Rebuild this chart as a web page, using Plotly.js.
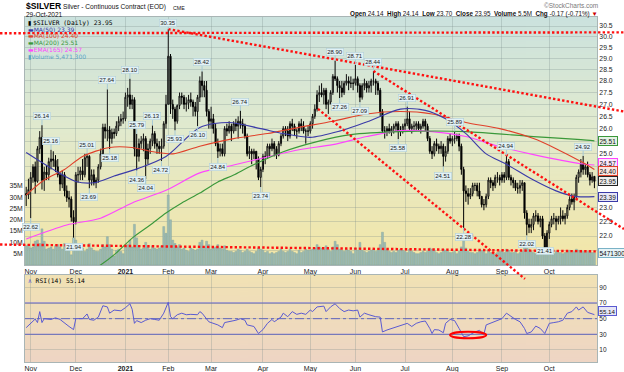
<!DOCTYPE html>
<html><head><meta charset="utf-8">
<script src="https://cdn.plot.ly/plotly-3.0.1.min.js"></script>
<style>html,body{margin:0;padding:0;background:#fff}#chart{width:624px;height:372px}</style>
</head><body><div id="chart"></div>
<script>
// ---------- calendar ----------
const firstDay = '2020-10-29', lastDay = '2021-10-29';
const holidays = ['2020-11-26','2020-12-25','2021-01-01','2021-01-18','2021-02-15','2021-04-02','2021-05-31','2021-07-05','2021-09-06'];
function tradingDays(a, b) {
  const out = []; const d = new Date(a + 'T00:00:00Z'); const end = new Date(b + 'T00:00:00Z');
  while (d <= end) { const wd = d.getUTCDay(); const s = d.toISOString().slice(0, 10);
    if (wd !== 0 && wd !== 6 && !holidays.includes(s)) out.push(s); d.setUTCDate(d.getUTCDate() + 1); }
  return out;
}
const dates = tradingDays(firstDay, lastDay);

// ---------- daily prices (Oct-29-2020 .. Oct-29-2021), one row per month ----------
const open = [
23.50,23.45,
23.65,24.10,24.50,23.95,25.20,25.65,24.00,24.30,24.20,24.70,24.80,24.75,24.50,24.20,23.85,24.20,23.60,23.35,23.30,22.65,
22.50,24.20,24.20,24.35,24.20,24.85,24.90,24.00,24.20,23.90,24.00,24.50,25.00,26.05,25.90,25.95,25.60,25.85,25.80,26.10,26.30,26.40,
26.40,27.30,27.40,27.00,27.20,25.20,24.90,25.40,25.50,25.60,24.80,25.20,25.50,25.80,25.40,25.30,25.20,25.30,26.20,
27.00,29.10,27.00,26.80,26.30,26.95,27.35,27.30,27.00,27.05,27.20,27.10,26.90,26.70,27.30,28.00,27.80,27.60,26.70,
26.30,26.40,26.00,25.40,25.10,25.20,25.00,26.00,25.90,26.10,25.90,26.20,26.10,26.30,26.20,26.10,25.70,25.00,25.10,25.00,25.10,24.80,24.10,
24.40,24.90,24.90,25.30,25.20,25.40,25.20,24.95,25.40,25.70,26.00,25.90,25.70,26.20,26.10,25.90,25.90,26.20,26.10,25.90,25.90,
25.90,26.20,26.50,26.80,27.40,27.50,27.40,27.60,27.00,27.10,27.50,28.20,28.10,27.80,27.70,27.50,27.90,28.00,27.90,27.90,
27.90,28.10,27.80,27.30,27.80,27.90,27.70,27.80,28.00,28.00,27.90,27.60,26.70,25.90,25.90,26.00,25.90,26.00,26.10,26.20,25.90,25.90,
26.10,26.20,26.40,26.00,26.10,26.10,26.20,26.00,26.10,26.30,26.10,25.60,25.10,25.00,25.40,25.30,25.20,25.30,24.90,25.10,25.60,
25.50,25.60,25.60,25.70,25.30,24.40,23.60,23.50,23.40,23.50,23.80,23.80,23.60,23.40,23.10,23.10,23.40,24.00,23.90,23.80,24.10,24.10,
24.00,24.20,24.10,24.70,24.10,24.00,23.90,23.70,23.70,23.80,23.90,22.80,22.40,22.30,22.40,22.70,22.70,22.50,22.60,22.00,21.60,
22.10,22.40,22.60,22.60,22.50,22.60,22.70,22.60,22.70,23.00,23.30,23.20,23.40,24.10,24.30,24.60,24.40,24.50,24.20,24.00,24.14];
const high = [
23.75,24.05,
24.30,24.60,24.70,25.30,25.90,26.14,24.50,24.55,24.85,25.16,25.10,24.95,24.80,24.30,24.35,24.30,23.80,23.60,23.40,22.90,
24.30,24.50,24.50,24.80,25.00,25.01,24.95,24.40,24.40,24.10,24.60,25.20,26.20,26.20,27.64,26.10,26.00,26.00,26.30,26.50,26.60,26.70,
27.50,27.70,28.10,27.40,27.30,25.79,25.60,25.70,25.80,25.70,25.40,25.60,26.13,25.90,25.60,25.50,25.60,26.30,27.40,
30.35,29.20,27.20,26.90,27.00,27.50,27.50,27.40,27.30,27.40,27.50,27.20,27.10,27.40,28.20,28.42,28.00,28.00,26.80,
26.90,26.60,26.20,25.60,25.40,25.40,26.10,26.20,26.30,26.20,26.30,26.40,26.50,26.74,26.40,26.20,25.80,25.30,25.20,25.20,25.10,24.90,24.50,
25.00,25.10,25.40,25.40,25.60,25.50,25.30,25.50,25.80,26.10,26.10,26.10,26.30,26.40,26.20,26.00,26.30,26.40,26.30,26.00,26.10,
26.30,26.60,27.00,27.60,27.80,27.90,27.70,27.70,27.20,27.60,28.30,28.90,28.20,28.00,28.00,28.00,28.30,28.20,28.20,28.10,
28.71,28.20,27.90,27.90,28.10,28.00,28.00,28.10,28.44,28.10,28.00,27.70,26.80,26.10,26.10,26.20,26.10,26.20,26.30,26.30,26.10,26.20,
26.40,26.91,26.70,26.20,26.30,26.30,26.30,26.20,26.40,26.40,26.20,25.70,25.30,25.50,25.60,25.40,25.50,25.40,25.30,25.70,25.80,
25.70,25.89,25.80,25.80,25.40,24.50,23.80,23.70,23.70,23.90,23.90,23.90,23.90,23.40,23.30,23.50,24.10,24.10,24.00,24.20,24.30,24.20,
24.30,24.30,24.94,24.80,24.20,24.10,24.00,23.90,24.00,24.00,23.90,22.90,22.60,22.60,22.80,22.90,22.80,22.70,22.70,22.10,22.20,
22.50,22.70,22.80,22.70,22.70,23.00,22.90,22.80,23.10,23.40,23.50,23.50,24.20,24.40,24.80,24.92,24.60,24.70,24.30,24.30,24.14];
const low = [
23.05,23.30,
22.62,23.90,23.50,23.90,25.00,23.65,23.60,24.00,24.00,24.40,24.50,24.30,24.10,23.60,23.70,23.40,23.20,23.00,22.50,21.94,
22.40,23.90,24.00,24.00,24.10,24.50,23.69,23.80,23.80,23.70,23.90,24.40,24.90,25.60,25.50,25.18,25.40,25.60,25.70,25.90,26.10,26.20,
26.30,26.90,26.80,26.80,24.90,24.36,24.70,25.20,25.10,24.04,24.60,25.00,25.30,25.20,25.00,25.00,24.72,25.20,26.00,
27.00,26.60,26.40,25.93,26.20,26.80,27.00,26.80,26.70,26.80,26.90,26.50,26.50,26.10,27.10,27.30,27.30,26.50,26.00,
26.00,25.80,25.30,24.84,24.90,24.90,24.90,25.70,25.80,25.50,25.80,25.90,25.60,26.00,25.80,25.60,24.90,24.80,24.60,24.80,24.40,24.00,23.74,
24.30,24.60,24.80,24.90,25.10,24.90,24.80,24.90,25.30,25.60,25.70,25.50,25.60,25.90,25.70,25.60,25.80,25.90,25.80,25.40,25.70,
25.80,26.00,26.40,26.70,27.10,27.30,27.00,26.80,26.60,27.00,27.40,28.00,27.50,27.26,27.30,27.40,27.80,27.60,27.70,27.60,
27.80,27.50,27.09,27.20,27.60,27.50,27.50,27.50,27.80,27.40,27.40,26.50,25.80,25.60,25.70,25.80,25.70,25.80,25.90,25.58,25.70,25.80,
25.90,26.10,25.90,25.80,25.90,25.90,25.90,25.80,26.00,25.90,25.50,25.00,24.80,24.90,25.10,25.00,25.00,24.51,24.70,25.00,25.40,
25.30,25.40,25.50,25.10,24.20,22.28,23.20,23.10,23.30,23.40,23.60,23.40,23.30,23.00,22.90,23.00,23.30,23.70,23.60,23.70,23.90,23.80,
23.90,23.90,24.00,24.00,23.80,23.70,23.60,23.50,23.50,23.60,22.60,22.02,22.10,22.10,22.20,22.50,22.40,22.30,21.90,21.41,21.50,
21.90,22.30,22.40,22.20,22.40,22.40,22.50,22.40,22.60,22.90,23.10,22.90,23.30,23.90,24.10,24.20,24.20,24.10,23.80,23.90,23.70];
const close = [
23.45,23.65,
24.10,24.50,23.95,25.20,25.65,24.00,24.30,24.20,24.70,24.80,24.75,24.50,24.20,23.85,24.20,23.60,23.35,23.30,22.65,22.50,
24.20,24.20,24.35,24.20,24.85,24.90,24.00,24.20,23.90,24.00,24.50,25.00,26.05,25.90,25.95,25.60,25.85,25.80,26.10,26.30,26.40,26.40,
27.30,27.40,27.00,27.20,25.20,24.90,25.40,25.50,25.60,24.80,25.20,25.50,25.80,25.40,25.30,25.20,25.30,26.20,27.00,
29.10,27.00,26.80,26.30,26.95,27.35,27.30,27.00,27.05,27.20,27.10,26.90,26.70,27.30,28.00,27.80,27.60,26.70,26.30,
26.40,26.00,25.40,25.10,25.20,25.00,26.00,25.90,26.10,25.90,26.20,26.10,26.30,26.20,26.10,25.70,25.00,25.10,25.00,25.10,24.80,24.10,24.40,
24.90,24.90,25.30,25.20,25.40,25.20,24.95,25.40,25.70,26.00,25.90,25.70,26.20,26.10,25.90,25.90,26.20,26.10,25.90,25.90,25.90,
26.20,26.50,26.80,27.40,27.50,27.40,27.60,27.00,27.10,27.50,28.20,28.10,27.80,27.70,27.50,27.90,28.00,27.90,27.90,27.90,
28.10,27.80,27.30,27.80,27.90,27.70,27.80,28.00,28.00,27.90,27.60,26.70,25.90,25.90,26.00,25.90,26.00,26.10,26.20,25.90,25.90,26.10,
26.20,26.40,26.00,26.10,26.10,26.20,26.00,26.10,26.30,26.10,25.60,25.10,25.00,25.40,25.30,25.20,25.30,24.90,25.10,25.60,25.50,
25.60,25.60,25.70,25.30,24.40,23.60,23.50,23.40,23.50,23.80,23.80,23.60,23.40,23.10,23.10,23.40,24.00,23.90,23.80,24.10,24.10,24.00,
24.20,24.10,24.70,24.10,24.00,23.90,23.70,23.70,23.80,23.90,22.80,22.40,22.30,22.40,22.70,22.70,22.50,22.60,22.00,21.60,22.10,
22.40,22.60,22.60,22.50,22.60,22.70,22.60,22.70,23.00,23.30,23.20,23.40,24.10,24.30,24.60,24.40,24.50,24.20,24.00,24.12,23.95];
// volume, millions of contracts
const volumeM = [
8.5,9.0,
7.5,8.0,10.5,11.0,9.5,16.0,10.5,7.0,7.5,8.0,7.0,8.5,9.0,8.0,7.0,9.5,8.5,6.5,4.5,12.0,
11.0,8.5,7.0,7.5,6.0,7.0,9.5,7.5,6.5,6.0,6.0,7.0,9.0,8.0,12.5,9.0,7.0,4.0,6.5,7.0,6.0,5.0,
8.5,9.0,11.0,8.0,18.0,12.0,8.5,7.0,7.5,10.0,8.0,7.0,8.5,7.5,7.0,7.5,8.5,17.0,14.0,
31.0,20.0,11.0,9.5,8.0,9.0,7.0,7.5,6.5,6.0,7.5,7.0,6.5,7.0,10.0,11.0,8.0,10.5,9.0,
7.0,7.5,8.0,9.0,7.5,7.0,8.5,6.5,6.0,6.0,5.5,6.0,7.0,6.5,5.5,6.0,7.0,6.0,5.5,5.0,6.0,7.5,7.0,
6.5,5.5,6.0,5.0,5.5,5.0,5.5,6.0,7.0,6.0,5.5,6.0,7.0,6.0,5.5,5.0,6.5,5.5,6.0,7.0,6.5,
6.5,7.0,7.5,9.0,8.0,7.5,7.0,8.5,7.0,6.0,8.0,10.5,9.0,7.0,6.5,6.0,7.0,6.5,6.0,5.0,
7.5,6.5,10.0,6.5,6.0,5.5,6.0,6.5,7.0,6.0,6.5,9.0,14.5,10.0,7.0,6.0,5.5,6.0,5.5,6.5,7.0,6.5,
6.0,5.5,7.0,6.0,5.5,5.0,5.0,5.5,6.0,5.5,6.0,7.5,7.0,6.5,5.5,5.0,5.5,7.0,6.5,6.0,5.5,
5.5,6.0,5.0,6.0,8.0,11.0,7.5,6.0,5.5,5.5,5.0,5.5,6.0,6.5,6.0,5.0,6.5,5.5,5.0,5.0,5.5,6.0,
6.0,5.5,7.0,6.5,5.5,5.5,6.0,5.0,5.5,6.0,8.5,7.5,7.0,6.0,5.5,5.0,5.5,6.0,7.0,7.5,6.5,
6.0,5.5,5.0,6.0,5.5,5.5,5.0,5.5,6.0,6.5,5.5,6.0,7.0,6.5,6.5,6.0,5.5,6.0,6.0,5.5,5.4713];

// ---------- moving averages ----------
const ma50Dates = ['2020-10-29','2020-11-13','2020-12-01','2020-12-11','2020-12-24','2021-01-12','2021-01-29','2021-02-22','2021-03-11','2021-03-31','2021-04-15','2021-05-03','2021-05-20','2021-06-09','2021-06-29','2021-07-15','2021-07-28','2021-08-10','2021-08-23','2021-09-03','2021-09-22','2021-10-06','2021-10-18','2021-10-29'];
const ma50Values = [25.05,24.45,23.95,23.9,24.15,24.45,24.9,26.05,26.25,26.0,25.8,25.65,25.9,26.3,26.8,26.75,26.4,25.8,25.0,24.6,24.0,23.6,23.4,23.39];
const ma100Dates = ['2020-10-29','2020-11-10','2020-11-23','2020-12-04','2020-12-22','2021-01-07','2021-01-20','2021-02-03','2021-02-22','2021-03-15','2021-04-06','2021-04-26','2021-05-17','2021-06-08','2021-06-29','2021-07-20','2021-08-10','2021-08-31','2021-09-22','2021-10-06','2021-10-21','2021-10-29'];
const ma100Values = [23.45,24.0,24.4,24.9,25.25,25.25,25.1,25.0,25.3,25.6,25.8,26.05,26.3,26.6,26.7,26.6,26.25,26.0,25.6,25.2,24.7,24.40];
const ma200Dates = ['2020-12-09','2020-12-16','2020-12-28','2021-01-07','2021-01-20','2021-01-29','2021-02-09','2021-02-22','2021-03-04','2021-03-15','2021-03-24','2021-04-15','2021-05-06','2021-05-27','2021-06-29','2021-08-10','2021-09-22','2021-10-21','2021-10-29'];
const ma200Values = [20.8,21.03,21.43,21.93,22.38,22.8,23.16,23.52,23.93,24.19,24.5,25.08,25.48,25.76,25.88,25.88,25.68,25.56,25.51];
const ema165Dates = ['2020-10-29','2020-11-24','2020-12-16','2021-01-07','2021-01-29','2021-02-22','2021-03-15','2021-04-06','2021-04-26','2021-05-17','2021-06-08','2021-06-29','2021-07-20','2021-08-10','2021-08-31','2021-09-22','2021-10-21','2021-10-29'];
const ema165Values = [21.9,22.38,22.62,23.16,23.62,24.27,24.57,24.88,25.16,25.36,25.68,25.92,25.88,25.68,25.28,24.97,24.62,24.57];

// ---------- RSI(14) ----------
const rsiDates = [
'2020-10-29','2020-11-03','2020-11-04','2020-11-05','2020-11-06','2020-11-09','2020-11-10','2020-11-13','2020-11-17','2020-11-19','2020-11-23','2020-11-25','2020-11-30',
'2020-12-01','2020-12-04','2020-12-08','2020-12-09','2020-12-11','2020-12-15','2020-12-17','2020-12-21','2020-12-22','2020-12-24','2020-12-30',
'2021-01-04','2021-01-05','2021-01-06','2021-01-07','2021-01-08','2021-01-11','2021-01-13','2021-01-15','2021-01-20','2021-01-22','2021-01-26','2021-01-28',
'2021-02-01','2021-02-02','2021-02-03','2021-02-05','2021-02-09','2021-02-11','2021-02-16','2021-02-19','2021-02-22','2021-02-23','2021-02-25','2021-02-26',
'2021-03-04','2021-03-08','2021-03-09','2021-03-11','2021-03-16','2021-03-18','2021-03-22','2021-03-23','2021-03-26','2021-03-30',
'2021-04-01','2021-04-06','2021-04-08','2021-04-09','2021-04-14','2021-04-15','2021-04-19','2021-04-21','2021-04-23','2021-04-27','2021-04-29',
'2021-05-03','2021-05-04','2021-05-06','2021-05-11','2021-05-12','2021-05-14','2021-05-18','2021-05-20','2021-05-24','2021-05-26','2021-05-28',
'2021-06-02','2021-06-03','2021-06-07','2021-06-09','2021-06-14','2021-06-16','2021-06-17','2021-06-21','2021-06-23','2021-06-25','2021-06-30',
'2021-07-02','2021-07-07','2021-07-09','2021-07-13','2021-07-15','2021-07-19','2021-07-20','2021-07-21','2021-07-23','2021-07-27','2021-07-28','2021-07-30',
'2021-08-03','2021-08-05','2021-08-09','2021-08-11','2021-08-16','2021-08-18','2021-08-20','2021-08-23','2021-08-26','2021-08-30',
'2021-09-01','2021-09-03','2021-09-08','2021-09-10','2021-09-14','2021-09-16','2021-09-17','2021-09-21','2021-09-23','2021-09-27','2021-09-29',
'2021-10-01','2021-10-05','2021-10-07','2021-10-11','2021-10-13','2021-10-15','2021-10-19','2021-10-20','2021-10-22','2021-10-26','2021-10-28','2021-10-29'];
const rsiValues = [
38.5,46,49.5,45,59,45,50,49,51,49,44,40,36,
50,50,56,49,48,52,66.5,65,57,61,60,
64,66,69,62,44,47.5,45,48,50,49,48,57,
71,52.5,50,55,57,55,55.5,55,59,57,50,46,
42,38.5,45,46,48,50,48,42,40,31,
36,44,49,46,52,57,52.5,59,55.5,57,55.5,
61,59,65,66,59,65,69,63,59,61,60,
61,52,57,55,52.5,52,33,35.5,37.5,40,42,
44,40,44,46,47,37.5,31,36,35.5,32,44,49,
47.5,37.5,27,28,33,35,30,42,45,47.5,
50,57,52.5,49,46,37.5,31,33,40.5,37.5,31,
44,45,46,48,57,59,65,61,65,58,56,55.14];

// ---------- swing-point labels ----------
const labelDates = ['2020-11-02','2020-11-09','2020-11-13','2020-11-30','2020-12-08','2020-12-09','2020-12-21','2020-12-22','2021-01-06','2021-01-11','2021-01-11','2021-01-15','2021-01-21','2021-01-27','2021-02-01','2021-02-04','2021-02-19','2021-02-23','2021-03-04','2021-03-18','2021-03-31','2021-05-18','2021-05-20','2021-06-01','2021-06-03','2021-06-11','2021-06-28','2021-07-02','2021-07-27','2021-08-03','2021-08-09','2021-09-03','2021-09-17','2021-09-29','2021-10-22'];
const labelKinds = ['L','H','H','L','H','L','H','L','H','H','L','L','H','L','H','L','L','H','L','H','L','H','L','H','L','H','L','H','L','H','L','H','L','L','H'];

// ---------- hand-drawn trend lines: [trading-day index, price] ----------
const trendStartDay = [-11.6, 63, 154, 129.4, -11.6];
const trendStartPrice = [30.16, 30.35, 28.44, 26.81, 21.71];
const trendEndDay = [265.1, 265.1, 265.1, 221.2, 265.1];
const trendEndPrice = [30.20, 26.70, 22.24, 20.58, 21.47];
const rsiCircleDays = [188, 204], rsiCircleLevels = [25, 33.3];

if ([open,high,low,close,volumeM].some(a => a.length !== dates.length)) console.error('length mismatch', dates.length, open.length, high.length, low.length, close.length, volumeM.length);

// ---------- geometry ----------
const W = 624, H = 372, ML = 25, MR = 27, MT = 17, MB = 10;
const PW = W - ML - MR, PH = H - MT - MB;
const X0 = -0.53, X1 = 253.15;
const MAIN_D0 = (H - MB - 265) / PH, RSI_D1 = (H - MB - 275) / PH;
const PRICE_LO = 21.03, PRICE_HI = 30.93, VOL_HI = 109.7, RSI_LO = -5.4, RSI_HI = 105.8;
const LLO = Math.log10(PRICE_LO), LHI = Math.log10(PRICE_HI);
const FONT = 'Liberation Sans, Arial, sans-serif';
const px2x = px => (px - ML) / PW, py2y = py => (H - MB - py) / PH;
const dayToPaper = k => (k - X0) / (X1 - X0);
const priceToPaper = p => MAIN_D0 + (Math.log10(p) - LLO) / (LHI - LLO) * (1 - MAIN_D0);
const pricePx = p => MT + (LHI - Math.log10(p)) / (LHI - LLO) * (265 - MT);

// month ticks
const monthNames = ['Jan','Feb','Mar','Apr','May','Jun','Jul','Aug','Sep','Oct','Nov','Dec'];
const tickDays = [], tickText = [];
dates.forEach((d, k) => { if (k > 0 && d.slice(5, 7) !== dates[k - 1].slice(5, 7)) {
  tickDays.push(d); const m = +d.slice(5, 7); tickText.push(m === 1 ? '<b>' + d.slice(0, 4) + '</b>' : monthNames[m - 1]); } });
// price ticks; the levels hidden behind the value tags carry no text
const priceTicks = []; for (let v = 21.5; v <= 30.51; v += 0.5) priceTicks.push(+v.toFixed(1));
const hiddenPriceLabels = [21.5, 23.5, 24.0, 24.5, 25.5];
const priceTickText = priceTicks.map(v => hiddenPriceLabels.includes(v) ? '' : v.toFixed(1));

// gradient backgrounds
function gradient(stops) {
  const c = document.createElement('canvas'); c.width = 4; c.height = 256; const g = c.getContext('2d');
  const lg = g.createLinearGradient(0, 0, 0, 256); stops.forEach(s => lg.addColorStop(s[0], s[1]));
  g.fillStyle = lg; g.fillRect(0, 0, 4, 256); return c.toDataURL();
}
const mainBg = gradient([[0, 'rgb(203,226,222)'], [0.45, 'rgb(225,234,206)'], [1, 'rgb(244,230,166)']]);
const rsiBg = gradient([[0, 'rgb(241,226,180)'], [1, 'rgb(238,213,196)']]);

const C50 = '#3a3aa8', C100 = '#e0402a', C200 = '#3a983a', CEMA = '#ff45ff', CRSI = '#5a5ad2';
const last = dates.length - 1;

const traces = [
  {type: 'bar', x: dates, y: volumeM, xaxis: 'x', yaxis: 'y', marker: {color: '#9dbab3', line: {color: '#7fa29a', width: 0.4}}, hoverinfo: 'skip'},
  {type: 'candlestick', x: dates, open, high, low, close, xaxis: 'x', yaxis: 'y2', whiskerwidth: 0,
    increasing: {line: {color: '#111', width: 1}, fillcolor: 'rgba(0,0,0,0)'},
    decreasing: {line: {color: '#000', width: 1}, fillcolor: '#000'}},
  {type: 'scatter', mode: 'lines', x: ema165Dates, y: ema165Values, xaxis: 'x', yaxis: 'y2', line: {color: CEMA, width: 1.1, shape: 'spline', smoothing: 0.8}},
  {type: 'scatter', mode: 'lines', x: ma200Dates, y: ma200Values, xaxis: 'x', yaxis: 'y2', line: {color: C200, width: 1.1, shape: 'spline', smoothing: 0.8}},
  {type: 'scatter', mode: 'lines', x: ma100Dates, y: ma100Values, xaxis: 'x', yaxis: 'y2', line: {color: C100, width: 1.1, shape: 'spline', smoothing: 0.8}},
  {type: 'scatter', mode: 'lines', x: ma50Dates, y: ma50Values, xaxis: 'x', yaxis: 'y2', line: {color: C50, width: 1.1, shape: 'spline', smoothing: 0.8}},
  {type: 'scatter', mode: 'lines', x: rsiDates, y: rsiValues, xaxis: 'x2', yaxis: 'y3', line: {color: CRSI, width: 1}}
];

const gridC = 'rgba(120,135,135,0.28)', lineC = '#a9b5b5';
const xCommon = {type: 'category', categoryorder: 'array', categoryarray: dates, range: [X0, X1], autorange: false,
  tickmode: 'array', tickvals: tickDays, ticktext: tickText, ticks: '', showgrid: true, gridcolor: gridC, gridwidth: 1,
  showline: true, mirror: true, linecolor: lineC, linewidth: 1, zeroline: false, fixedrange: true,
  tickfont: {family: FONT, size: 7, color: '#222'}, rangeslider: {visible: false}};

const annotations = [];
function txt(px, py, text, o = {}) {
  annotations.push({xref: 'paper', yref: 'paper', x: px2x(px), y: py2y(py), text, showarrow: false,
    xanchor: o.anchor || 'left', yanchor: 'middle', borderpad: 0,
    font: {family: o.family || FONT, size: o.size || 6.5, color: o.color || '#000'}});
}
// header
txt(25, 6.5, '<b>$SILVER</b>', {size: 8.6});
txt(62, 7, 'Silver - Continuous Contract (EOD)', {size: 6.6, color: '#111'});
txt(172, 7.5, 'CME', {size: 5.3, color: '#111'});
txt(25, 14.3, '29-Oct-2021', {size: 6.5, color: '#111'});
txt(599, 5.5, '©StockCharts.com', {anchor: 'right', size: 6.5, color: '#7a7a7a'});
txt(599, 14.3, '<b>Open</b> 24.14  <b>High</b> 24.14  <b>Low</b> 23.70  <b>Close</b> 23.95  <b>Volume</b> 5.5M  <b>Chg</b> -0.17 (-0.71%) <span style="color:#cc0000">▼</span>', {anchor: 'right', size: 6.3, color: '#111'});
// legend
txt(27, 22.7, '▮', {size: 5.5});
txt(32, 22.7, '$SILVER (Daily) ' + close[last].toFixed(2), {family: 'DejaVu Sans Mono', size: 6.3});
txt(27, 29.3, '▬MA(50) ' + ma50Values[ma50Values.length - 1].toFixed(2), {family: 'DejaVu Sans', size: 6, color: C50});
txt(27, 36, '▬MA(100) ' + ma100Values[ma100Values.length - 1].toFixed(2), {family: 'DejaVu Sans', size: 6, color: C100});
txt(27, 42.7, '▬MA(200) ' + ma200Values[ma200Values.length - 1].toFixed(2), {family: 'DejaVu Sans', size: 6, color: C200});
txt(27, 49.3, '▬EMA(165) ' + ema165Values[ema165Values.length - 1].toFixed(2), {family: 'DejaVu Sans', size: 6, color: CEMA});
txt(27, 56, '▮Volume ' + Math.round(volumeM[last] * 1e6).toLocaleString('en-US'), {family: 'DejaVu Sans', size: 6, color: '#5aa5c8'});
txt(27, 280, '<span style="color:' + CRSI + '">∧</span> RSI(14) ' + rsiValues[rsiValues.length - 1].toFixed(2), {family: 'DejaVu Sans Mono', size: 6.3});

// swing labels
const dayIndex = {}; dates.forEach((d, k) => dayIndex[d] = k);
labelDates.forEach((d, j) => {
  const k = dayIndex[d], isHigh = labelKinds[j] === 'H', v = isHigh ? high[k] : low[k];
  const py = pricePx(v);
  let ay = isHigh ? -9 : 9;
  if (isHigh && py + ay < 23) ay = 23 - py;
  if (!isHigh && py + ay > 251) ay = 251 - py;
  annotations.push({xref: 'x', yref: 'y2', x: d, y: Math.log10(v), text: v.toFixed(2), showarrow: true,
    arrowhead: 0, arrowwidth: 1, arrowcolor: '#a7cad5', ax: 0, ay, standoff: 0,
    font: {family: FONT, size: 6, color: '#222'}, bgcolor: '#e2f1f5', bordercolor: '#b2d0d9', borderwidth: 0.6, borderpad: 0.6});
});
// right-side value tags
function tag(yref, y, text, border, bg, shift, size) {
  annotations.push({xref: 'paper', yref, x: px2x(598), y, yshift: shift || 0, text, showarrow: false, xanchor: 'left', yanchor: 'middle',
    font: {family: FONT, size: size || 6.5, color: '#111'}, bgcolor: bg, bordercolor: border, borderwidth: 1, borderpad: 0.5});
}
tag('y2', Math.log10(ma200Values[ma200Values.length - 1]), ma200Values[ma200Values.length - 1].toFixed(2), C200, '#e4f2e4');
tag('y2', Math.log10(ema165Values[ema165Values.length - 1]), ema165Values[ema165Values.length - 1].toFixed(2), CEMA, '#fbe6fb', 2);
tag('y2', Math.log10(ma100Values[ma100Values.length - 1]), ma100Values[ma100Values.length - 1].toFixed(2), C100, '#fbe4e0', -2);
tag('y2', Math.log10(close[last]), close[last].toFixed(2), '#222', '#eeeeee');
tag('y2', Math.log10(ma50Values[ma50Values.length - 1]), ma50Values[ma50Values.length - 1].toFixed(2), C50, '#e6e6f6');
tag('y', volumeM[last], String(Math.round(volumeM[last] * 1e6)), '#7ab2c6', '#e6f3f7');
tag('y3', rsiValues[rsiValues.length - 1], rsiValues[rsiValues.length - 1].toFixed(2), CRSI, '#e6e6f6', 3.5, 6.2);

// shapes
const shapes = [];
trendStartDay.forEach((s, j) => shapes.push({type: 'line', xref: 'paper', yref: 'paper', layer: 'above',
  x0: dayToPaper(s), y0: priceToPaper(trendStartPrice[j]), x1: dayToPaper(trendEndDay[j]), y1: priceToPaper(trendEndPrice[j]),
  line: {color: '#ff1010', width: 2.4, dash: '2.4px,2.2px'}}));
[70, 30].forEach(v => shapes.push({type: 'line', xref: 'x2 domain', x0: 0, x1: 1, yref: 'y3', y0: v, y1: v, layer: 'below', line: {color: CRSI, width: 1}}));
shapes.push({type: 'line', xref: 'x2 domain', x0: 0, x1: 1, yref: 'y3', y0: 50, y1: 50, layer: 'below', line: {color: CRSI, width: 1, dash: 'dashdot'}});
shapes.push({type: 'circle', xref: 'x2', yref: 'y3', x0: rsiCircleDays[0], x1: rsiCircleDays[1], y0: rsiCircleLevels[0], y1: rsiCircleLevels[1], layer: 'above', line: {color: '#ff0000', width: 2}});

const layout = {
  width: W, height: H, autosize: false, margin: {l: ML, r: MR, t: MT, b: MB, pad: 0},
  paper_bgcolor: '#ffffff', plot_bgcolor: 'rgba(0,0,0,0)', showlegend: false, hovermode: false,
  bargap: 0.12, font: {family: FONT, size: 7, color: '#222'},
  xaxis: Object.assign({}, xCommon, {anchor: 'y', domain: [0, 1]}),
  xaxis2: Object.assign({}, xCommon, {anchor: 'y3', domain: [0, 1]}),
  yaxis: {domain: [MAIN_D0, 1], anchor: 'x', side: 'left', range: [0, VOL_HI], autorange: false,
    tickmode: 'array', tickvals: [5, 10, 15, 20, 25, 30, 35], ticktext: ['5M', '10M', '15M', '20M', '25M', '30M', '35M'],
    showgrid: false, zeroline: false, ticks: '', showline: true, linecolor: lineC, fixedrange: true,
    tickfont: {family: FONT, size: 6.8, color: '#222'}},
  yaxis2: {overlaying: 'y', anchor: 'x', side: 'right', type: 'log', range: [LLO, LHI], autorange: false,
    tickmode: 'array', tickvals: priceTicks, ticktext: priceTickText,
    showgrid: true, gridcolor: gridC, zeroline: false, ticks: '', showline: true, linecolor: lineC, fixedrange: true,
    tickfont: {family: FONT, size: 6.8, color: '#222'}},
  yaxis3: {domain: [0, RSI_D1], anchor: 'x2', side: 'right', range: [RSI_LO, RSI_HI], autorange: false,
    tickmode: 'array', tickvals: [10, 30, 50, 70, 90], showgrid: true, gridcolor: gridC, zeroline: false, ticks: '',
    showline: true, mirror: true, linecolor: lineC, fixedrange: true, tickfont: {family: FONT, size: 6.5, color: '#222'}},
  images: [
    {source: mainBg, xref: 'paper', yref: 'paper', x: 0, y: 1, sizex: 1, sizey: 1 - MAIN_D0, xanchor: 'left', yanchor: 'top', sizing: 'stretch', layer: 'below'},
    {source: rsiBg, xref: 'paper', yref: 'paper', x: 0, y: RSI_D1, sizex: 1, sizey: RSI_D1, xanchor: 'left', yanchor: 'top', sizing: 'stretch', layer: 'below'}
  ],
  annotations, shapes
};
Plotly.newPlot('chart', traces, layout, {staticPlot: true, displayModeBar: false});
</script></body></html>
